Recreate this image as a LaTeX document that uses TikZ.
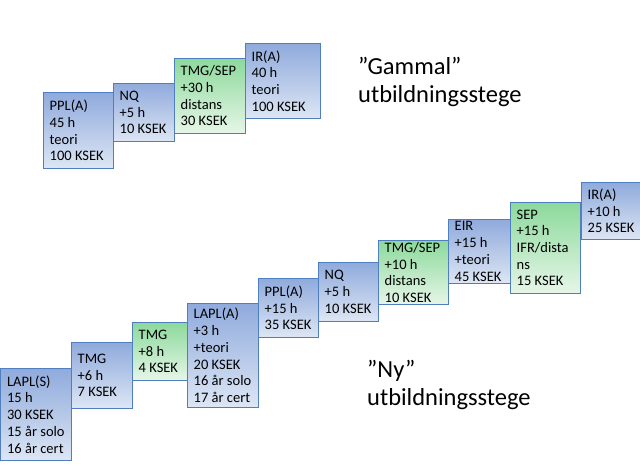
\documentclass[tikz,border=0pt]{standalone}
\usepackage{fontspec}
\setmainfont{Carlito}
\definecolor{bluetop}{HTML}{8FAADC}
\definecolor{bluebot}{HTML}{DDE6F4}
\definecolor{greentop}{HTML}{8CD99B}
\definecolor{greenbot}{HTML}{E6F6E8}
\definecolor{edge}{HTML}{4F7FBF}
\tikzset{
  stepbox/.style={draw=edge, line width=0.8bp, anchor=north west, inner sep=0pt},
  bluebox/.style={stepbox, top color=bluetop, bottom color=bluebot},
  greenbox/.style={stepbox, top color=greentop, bottom color=greenbot},
  boxtext/.style={anchor=west, align=left, inner sep=0pt, font=\fontsize{14.5bp}{16.7bp}\selectfont},
  title/.style={anchor=base west, align=left, inner sep=0pt, font=\fontsize{24.5bp}{28bp}\selectfont}
}
% #1 name, #2 style, #3 left, #4 top, #5 right, #6 bottom, #7 text
\newcommand{\mybox}[7]{%
  \node[#2, minimum width={(#5-#3)*1bp}, minimum height={(#6-#4)*1bp}] (#1) at (#3,#4) {};
  \node[boxtext] (#1t) at ([xshift=6.5bp]#1.west) {#7};
}
\begin{document}
\begin{tikzpicture}[x=1bp,y=-1bp]
\useasboundingbox (0,0) rectangle (640,469);
% old ladder
\mybox{a1}{bluebox}{43}{92}{113}{168}{PPL(A)\\45 h\\teori\\100 KSEK}
\mybox{a2}{bluebox}{113}{83}{174}{141}{NQ\\+5 h\\10 KSEK}
\mybox{a3}{greenbox}{174}{58}{245}{133}{TMG/SEP\\+30 h\\distans\\30 KSEK}
\mybox{a4}{bluebox}{245}{43}{320}{118}{IR(A)\\40 h\\teori\\100 KSEK}
% new ladder
\mybox{b1}{bluebox}{0.4}{368}{71}{460}{LAPL(S)\\15 h\\30 KSEK\\15 år solo\\16 år cert}
\mybox{b2}{bluebox}{71}{342}{132}{408}{TMG\\+6 h\\7 KSEK}
\mybox{b3}{greenbox}{132}{322}{187}{380}{TMG\\+8 h\\4 KSEK}
\mybox{b4}{bluebox}{187}{303}{258}{407}{LAPL(A)\\+3 h\\+teori\\20 KSEK\\16 år solo\\17 år cert}
\mybox{b5}{bluebox}{258}{278}{318}{337}{PPL(A)\\+15 h\\35 KSEK}
\mybox{b6}{bluebox}{318}{262}{378}{321}{NQ\\+5 h\\10 KSEK}
\mybox{b7}{greenbox}{378}{240}{448}{304}{TMG/SEP\\+10 h\\distans\\10 KSEK}
\mybox{b8}{bluebox}{448}{219}{510}{283}{EIR\\+15 h\\+teori\\45 KSEK}
\mybox{b9}{greenbox}{510}{202}{580}{293}{SEP\\+15 h\\IFR/dista\\ns\\15 KSEK}
\mybox{b10}{bluebox}{581}{182}{639.6}{239}{IR(A)\\+10 h\\25 KSEK}
% titles
\node[title] (t1) at (358,103) {”Gammal”\\utbildningsstege};
\node[title] (t2) at (367,405) {”Ny”\\utbildningsstege};
\end{tikzpicture}
\end{document}
